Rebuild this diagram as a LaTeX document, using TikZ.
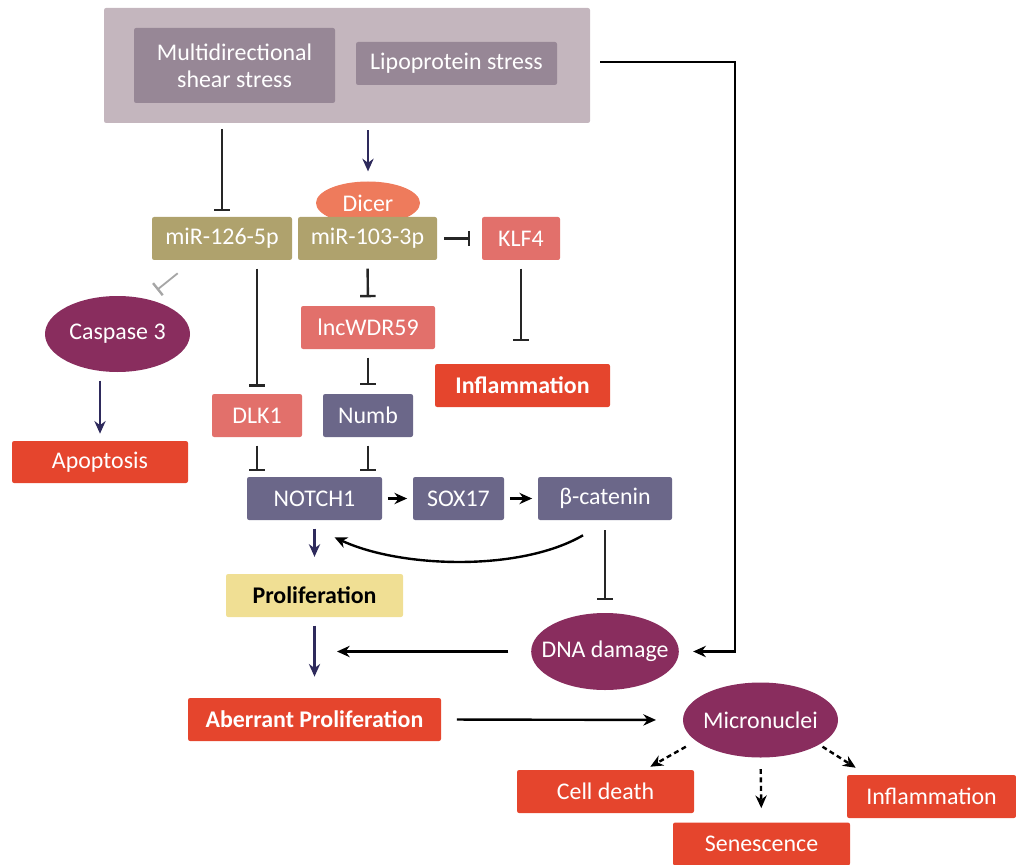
\documentclass[tikz,border=0pt]{standalone}
\usepackage{fontspec}
\setmainfont{Carlito}
\usetikzlibrary{arrows.meta}
\usetikzlibrary{shapes.geometric}

\definecolor{outerbg}{HTML}{C4B6BE}
\definecolor{innerbg}{HTML}{978796}
\definecolor{olive}{HTML}{AFA26D}
\definecolor{dicerc}{HTML}{EE7B5C}
\definecolor{pinkc}{HTML}{E2706B}
\definecolor{slate}{HTML}{6B6789}
\definecolor{redc}{HTML}{E5452D}
\definecolor{plum}{HTML}{892D5E}
\definecolor{sand}{HTML}{F0DF94}
\definecolor{navy}{HTML}{2E2A5C}

\tikzset{
  box/.style={rectangle, rounded corners=1.5pt, text=white, inner sep=0pt,
    font=\fontsize{17}{19}\selectfont},
  blob/.style={ellipse, fill=plum, text=white, inner xsep=-8pt, inner ysep=0pt,
    font=\fontsize{17}{19}\selectfont},
  arr/.style={-{Stealth[length=9pt,width=8pt]}, line width=1.7pt, black},
  narr/.style={arr, navy},
  inh/.style={-{Bar[width=11pt,line width=1.7pt]}, line width=1.7pt, black!85},
  darr/.style={arr, dash pattern=on 3.5pt off 2.5pt}
}

\begin{document}
\begin{tikzpicture}[x=0.025cm, y=-0.025cm]
    \useasboundingbox (0,0) rectangle (1016,865);

    %Stress box
    \node[box, fill=outerbg, minimum width=486*0.025cm, minimum height=115*0.025cm] (stress) at (347,65.5) {};
    \node[box, fill=innerbg, minimum width=201*0.025cm, minimum height=75*0.025cm, align=center] (shear) at (234.5,65.5) {Multidirectional\\shear stress};
    \node[box, fill=innerbg, minimum width=201*0.025cm, minimum height=43*0.025cm] (lipo) at (456.5,63.5) {Lipoprotein stress};

    %miRNAs
    \node[box, fill=olive, minimum width=140*0.025cm, minimum height=43*0.025cm] (mir126) at (222,238.5) {miR-126-5p};
    \node[blob, fill=dicerc, minimum width=104*0.025cm, minimum height=43*0.025cm] (dicer) at (368,203) {Dicer};
    \node[box, fill=olive, minimum width=139*0.025cm, minimum height=43*0.025cm] (mir103) at (367.5,238.5) {miR-103-3p};
    \node[box, fill=pinkc, minimum width=78*0.025cm, minimum height=43*0.025cm] (klf4) at (521,238.5) {KLF4};

    %Left side
    \node[blob, minimum width=145*0.025cm, minimum height=76*0.025cm] (casp3) at (117.5,334) {Caspase 3};
    \node[box, fill=redc, minimum width=176*0.025cm, minimum height=42*0.025cm] (apop) at (100,462) {Apoptosis};

    %Middle
    \node[box, fill=pinkc, minimum width=134*0.025cm, minimum height=43*0.025cm] (lnc) at (368,327.5) {lncWDR59};
    \node[box, fill=redc, minimum width=175*0.025cm, minimum height=43*0.025cm,
      font=\fontsize{17}{19}\selectfont\bfseries] (infl) at (522.5,385.5) {Inflammation};
    \node[box, fill=pinkc, minimum width=90*0.025cm, minimum height=43*0.025cm] (dlk1) at (257,415.5) {DLK1};
    \node[box, fill=slate, minimum width=90*0.025cm, minimum height=43*0.025cm] (numb) at (368,415.5) {Numb};

    %Notch row
    \node[box, fill=slate, minimum width=135*0.025cm, minimum height=43*0.025cm] (notch) at (314.5,498.5) {NOTCH1};
    \node[box, fill=slate, minimum width=91*0.025cm, minimum height=43*0.025cm] (sox) at (458.5,498.5) {SOX17};
    \node[box, fill=slate, minimum width=134*0.025cm, minimum height=43*0.025cm] (bcat) at (605,498.5) {β-catenin};

    %Bottom
    \node[box, fill=sand, text=black, minimum width=177*0.025cm, minimum height=43*0.025cm,
      font=\fontsize{17}{19}\selectfont\bfseries] (prolif) at (314.5,595.5) {Proliferation};
    \node[blob, minimum width=146*0.025cm, minimum height=77*0.025cm] (dna) at (605,651.5) {DNA damage};
    \node[box, fill=redc, minimum width=253*0.025cm, minimum height=43*0.025cm,
      font=\fontsize{17}{19}\selectfont\bfseries] (aberr) at (314.5,719.5) {Aberrant Proliferation};
    \node[blob, minimum width=155*0.025cm, minimum height=75*0.025cm] (micro) at (760.5,720) {Micronuclei};
    \node[box, fill=redc, minimum width=177*0.025cm, minimum height=43*0.025cm] (death) at (605.5,791.5) {Cell death};
    \node[box, fill=redc, minimum width=177*0.025cm, minimum height=43*0.025cm] (senes) at (761.5,844) {Senescence};
    \node[box, fill=redc, minimum width=169*0.025cm, minimum height=43*0.025cm] (inflb) at (931.5,796.5) {Inflammation};

    %Connectors from the stress box
    \draw[inh, shorten <=4pt, shorten >=4pt] (stress.south -| mir126) -- (mir126.north);
    \draw[narr, shorten <=5pt, shorten >=7pt] (stress.south -| dicer) -- (dicer.north);
    \coordinate (turn) at (735,62);
    \draw[arr] ([xshift=7pt]stress.east |- turn) -- (turn) -- (turn |- dna.east) -- ([xshift=10pt]dna.east);

    %Upper links
    \draw[inh, shorten <=5pt, shorten >=8pt] (mir103.east) -- (klf4.west);
    \draw[inh, black!35, line width=1.3pt] ([shift={(26,13)}]mir126.south west) -- ([shift={(-12,-17)}]casp3.north east);
    \draw[narr, shorten <=6pt, shorten >=5pt] (casp3.south -| apop) -- (apop.north);
    \draw[inh, shorten <=6pt, shorten >=5pt] (mir126.south -| dlk1) -- (dlk1.north);
    \draw[inh, shorten <=6pt, shorten >=6pt] (mir103.south) -- (lnc.north);
    \draw[inh, shorten <=6pt, shorten >=6pt] (lnc.south) -- (numb.north);
    \draw[inh, shorten <=6pt, shorten >=16pt] (klf4.south) -- (klf4.south |- infl.north);

    %Notch links
    \draw[inh, shorten <=6pt, shorten >=4pt] (dlk1.south) -- (dlk1.south |- notch.north);
    \draw[inh, shorten <=6pt, shorten >=4pt] (numb.south) -- (numb.south |- notch.north);
    \draw[arr, shorten <=4pt, shorten >=4pt] (notch.east) -- (sox.west);
    \draw[arr, shorten <=4pt, shorten >=4pt] (sox.east) -- (bcat.west);
    \draw[arr] ([shift={(-22,15)}]bcat.south) .. controls (520,572) and (400,568) .. ([shift={(20,17)}]notch.south);
    \draw[narr, shorten <=6pt, shorten >=12pt] (notch.south) -- (prolif.north);
    \draw[inh, shorten <=7pt, shorten >=9pt] (bcat.south) -- (dna.north);

    %Lower links
    \draw[narr, shorten <=6pt, shorten >=15pt] (prolif.south) -- (aberr.north);
    \draw[arr, shorten <=16pt, shorten >=16pt] (dna.west) -- (aberr.north |- dna.west);
    \draw[arr, shorten <=11pt, shorten >=19pt] (aberr.east) -- (micro.west);
    \draw[darr] ([xshift=-14pt]micro.south west) -- ([shift={(-44,-3)}]death.north east);
    \draw[darr, shorten <=8pt, shorten >=10pt] (micro.south) -- (senes.north);
    \draw[darr] ([xshift=5pt]micro.south east) -- ([shift={(9,-7)}]inflb.north west);
\end{tikzpicture}
\end{document}
